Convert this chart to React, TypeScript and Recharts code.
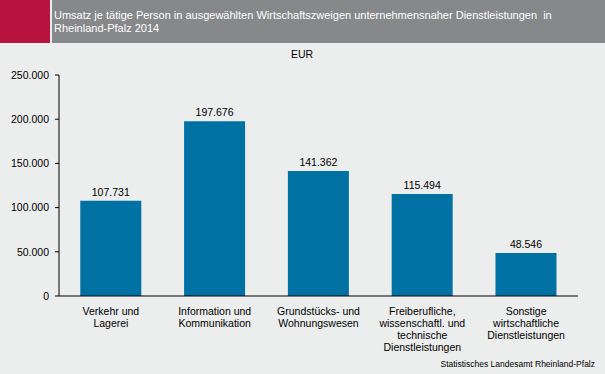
import React from 'react';
import { BarChart, Bar, XAxis, YAxis, LabelList } from 'recharts';

const categories = [
    ['Verkehr und', 'Lagerei'],
    ['Information und', 'Kommunikation'],
    ['Grundstücks- und', 'Wohnungswesen'],
    ['Freiberufliche,', 'wissenschaftl. und', 'technische', 'Dienstleistungen'],
    ['Sonstige', 'wirtschaftliche', 'Dienstleistungen'],
];
const umsatz = [107731, 197676, 141362, 115494, 48546];
const yTicks = [0, 50000, 100000, 150000, 200000, 250000];

const data = categories.map((lines, i) => ({
    name: lines.join(' '),
    lines,
    value: umsatz[i],
}));

const FONT = 'Arial, "Liberation Sans", sans-serif';

// 250000 -> "250.000"
const fmt = (v: number) => String(v).replace(/\B(?=(\d{3})+(?!\d))/g, '.');

const CategoryTick = (props: any) => {
    const { x, y, payload, index } = props;
    const lines = categories[index] || [payload.value];
    return (
        <text x={x} y={y + 11} textAnchor="middle" fontSize={10.5} fill="#000" fontFamily={FONT}>
            {lines.map((l: string, i: number) => (
                <tspan key={i} x={x} dy={i === 0 ? 0 : 12}>
                    {l}
                </tspan>
            ))}
        </text>
    );
};

export default function App() {
    return (
        <div
            style={{
                position: 'absolute',
                left: 0,
                top: 0,
                width: 605,
                height: 374,
                background: '#ECEDED',
                fontFamily: FONT,
                overflow: 'hidden',
            }}
        >
            <div style={{ position: 'absolute', left: 0, top: 0, width: 50, height: 43, background: '#B8123F' }} />
            <div
                style={{
                    position: 'absolute',
                    left: 52,
                    top: 0,
                    width: 553,
                    height: 43,
                    background: '#878889',
                    color: '#fff',
                    fontSize: 11,
                    lineHeight: '13px',
                    padding: '9px 0 0 2px',
                    boxSizing: 'border-box',
                }}
            >
                Umsatz je tätige Person in ausgewählten Wirtschaftszweigen unternehmensnaher Dienstleistungen&nbsp; in
                <br />
                Rheinland-Pfalz 2014
            </div>
            <div
                style={{
                    position: 'absolute',
                    left: 270,
                    top: 48,
                    width: 64,
                    textAlign: 'center',
                    fontSize: 10.5,
                    color: '#000',
                }}
            >
                EUR
            </div>
            <div style={{ position: 'absolute', left: 0, top: 0 }}>
                <BarChart
                    width={605}
                    height={374}
                    data={data}
                    margin={{ top: 75, right: 27, bottom: 8, left: 9 }}
                    barCategoryGap="20.5%"
                >
                    <XAxis
                        dataKey="name"
                        interval={0}
                        height={70}
                        tick={<CategoryTick />}
                        tickLine={false}
                        axisLine={{ stroke: '#000', strokeWidth: 1 }}
                    />
                    <YAxis
                        width={50}
                        domain={[0, 250000]}
                        ticks={yTicks}
                        tickFormatter={fmt}
                        tickSize={4}
                        tickMargin={6}
                        tick={{ fontSize: 10.5, fill: '#000', fontFamily: FONT }}
                        tickLine={{ stroke: '#000' }}
                        axisLine={{ stroke: '#000', strokeWidth: 1 }}
                    />
                    <Bar dataKey="value" fill="#0071A3" isAnimationActive={false}>
                        <LabelList
                            dataKey="value"
                            position="top"
                            offset={5}
                            formatter={(v: any) => fmt(Number(v))}
                            style={{ fontSize: 10.5, fill: '#000', fontFamily: FONT }}
                        />
                    </Bar>
                </BarChart>
            </div>
            <div
                style={{
                    position: 'absolute',
                    right: 10,
                    top: 359,
                    fontSize: 8.5,
                    color: '#000',
                    whiteSpace: 'nowrap',
                }}
            >
                Statistisches Landesamt Rheinland-Pfalz
            </div>
        </div>
    );
}
